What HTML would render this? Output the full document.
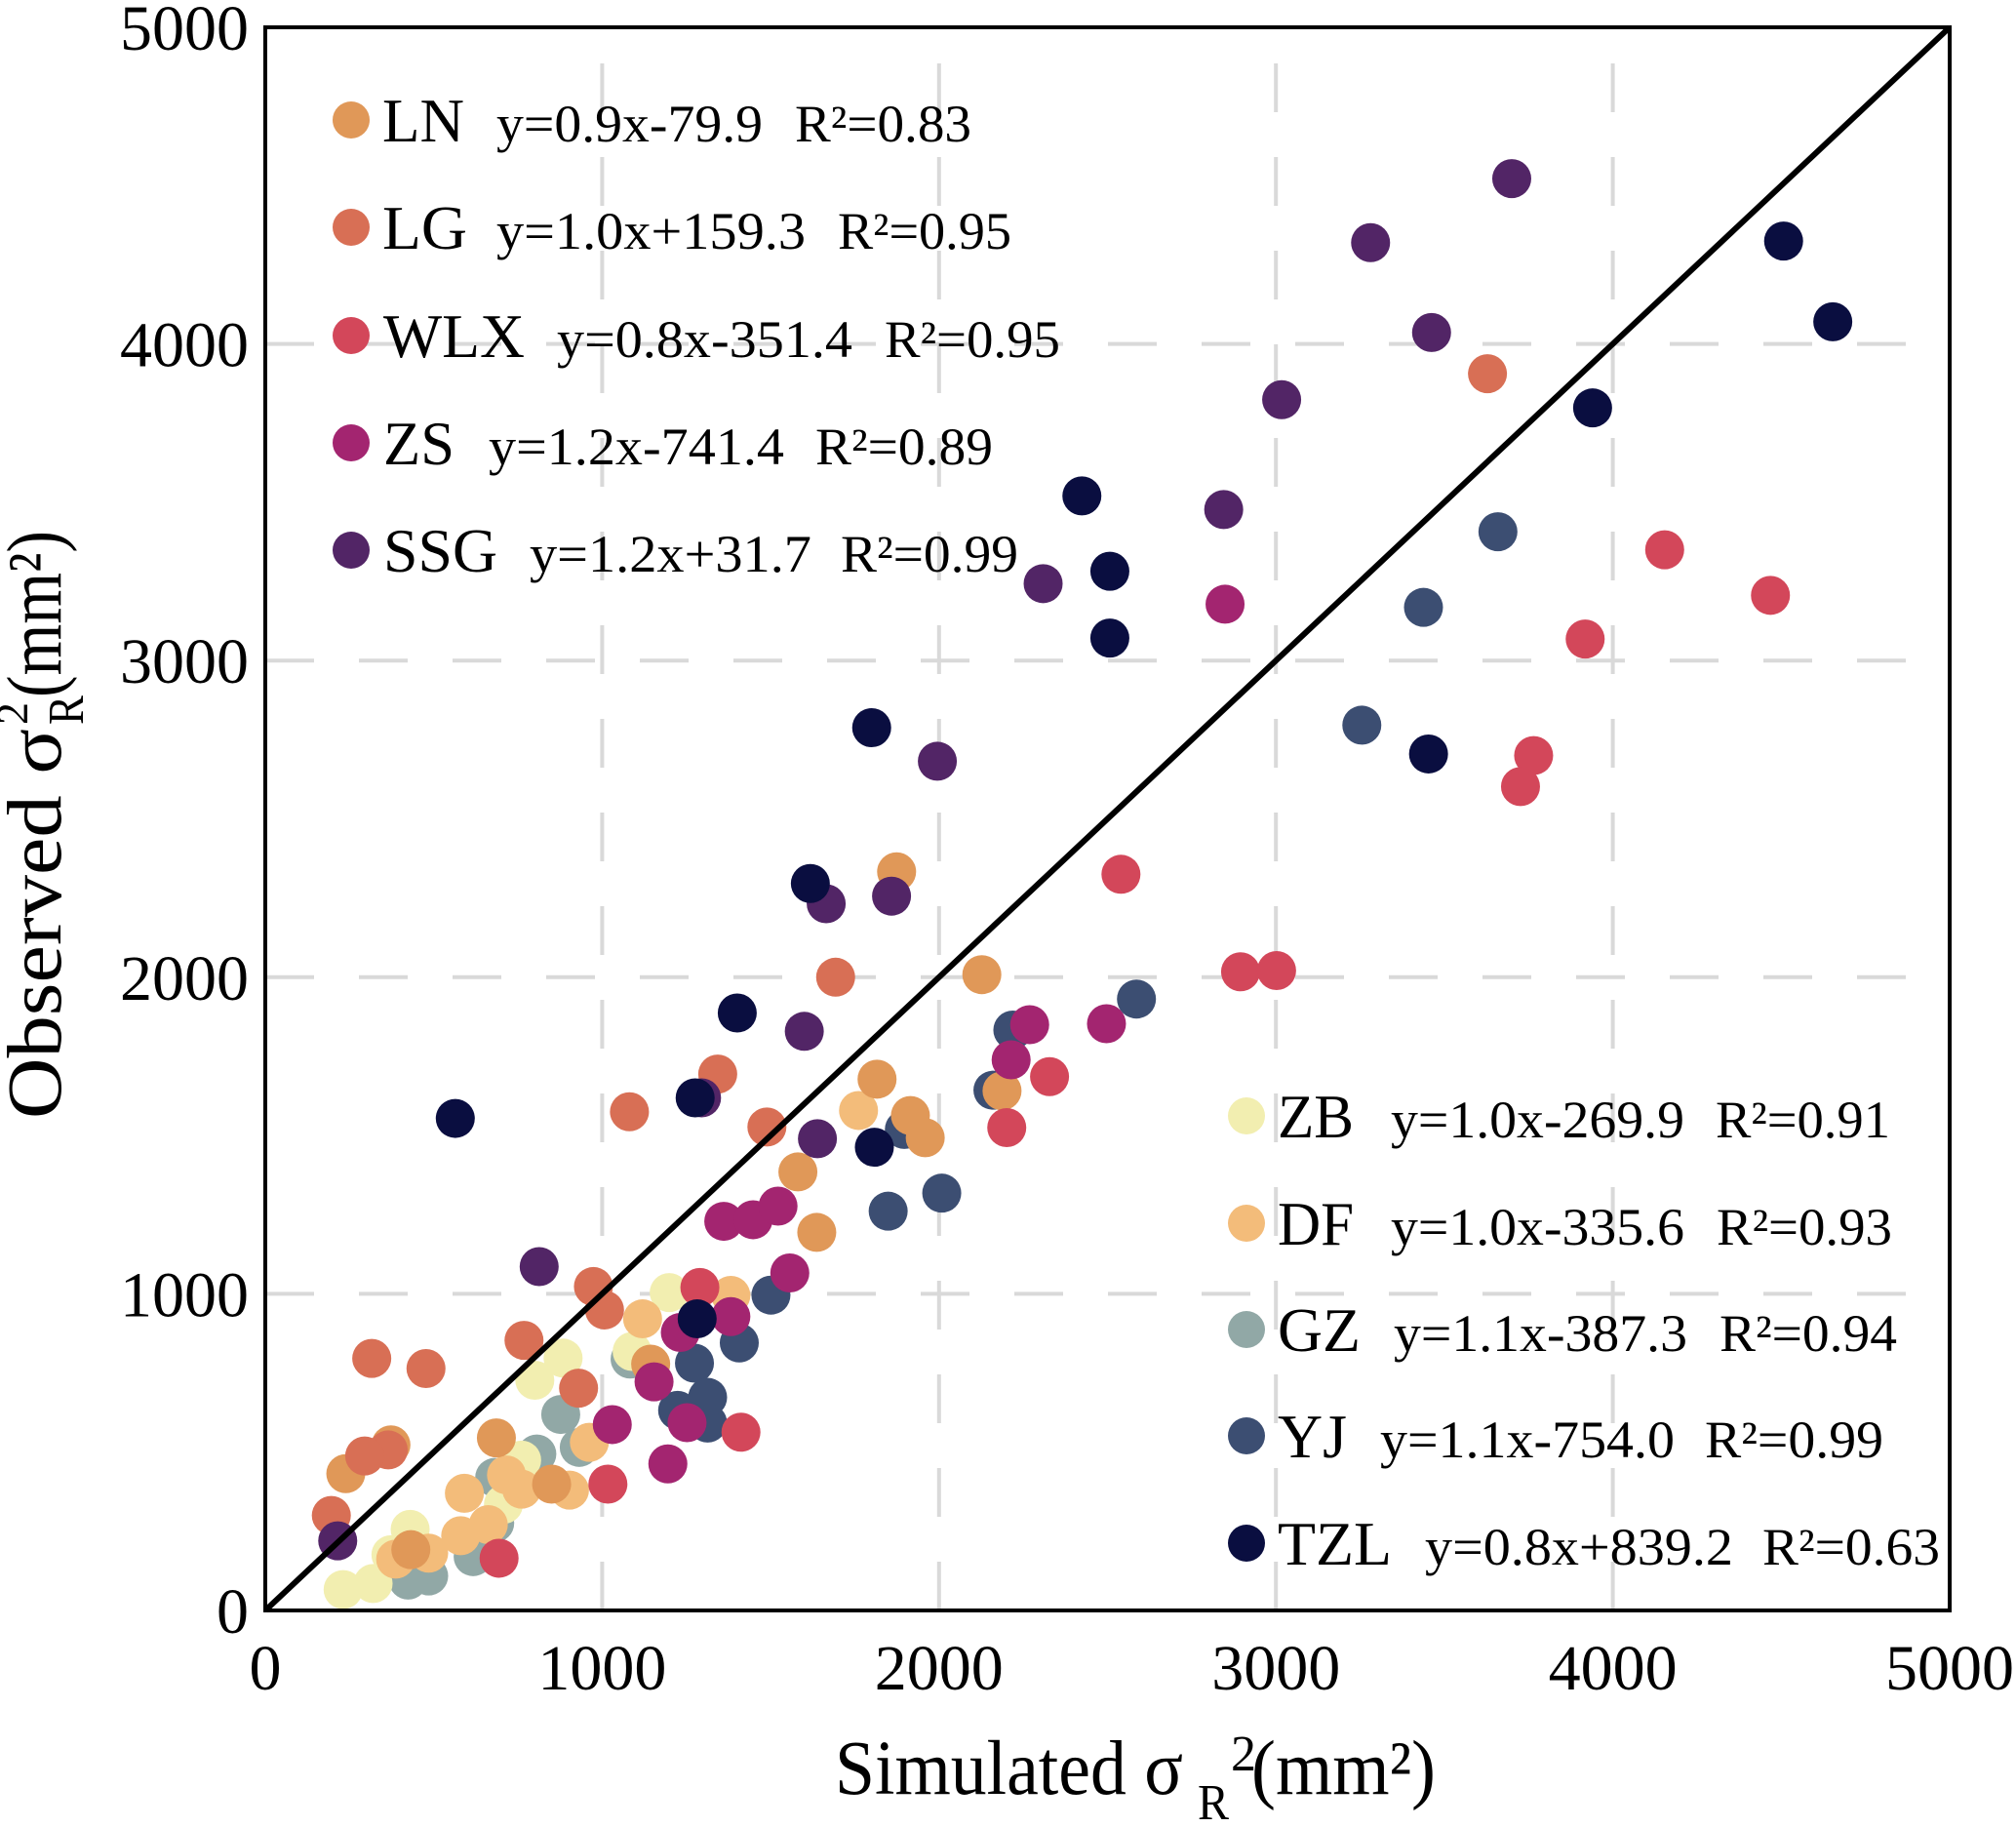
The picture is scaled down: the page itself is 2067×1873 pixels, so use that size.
<!DOCTYPE html>
<html><head><meta charset="utf-8"><style>
html,body{margin:0;padding:0;background:#fff;}
svg{display:block;font-family:"Liberation Serif",serif;}
</style></head><body>
<svg id="chart" width="2067" height="1873" viewBox="0 0 2067 1873" xmlns="http://www.w3.org/2000/svg">
<g id="grid"></g>
<g id="dots"></g>
<line x1="272" y1="1651" x2="1999" y2="28" stroke="#000" stroke-width="6"/>
<rect x="272" y="28" width="1727" height="1623" fill="none" stroke="#000" stroke-width="4"/>
<g id="ticks" font-size="66"></g>
<g font-size="79">
<text x="856" y="1839" textLength="357" lengthAdjust="spacingAndGlyphs">Simulated σ</text>
<text x="1228" y="1865" font-size="52" textLength="32" lengthAdjust="spacingAndGlyphs">R</text>
<text x="1262" y="1815" font-size="52">2</text>
<text x="1283" y="1839" textLength="189" lengthAdjust="spacingAndGlyphs">(mm²)</text>
</g>
<g font-size="79" transform="translate(62,1147) rotate(-90)">
<text x="0" y="0" textLength="400" lengthAdjust="spacingAndGlyphs">Observed σ</text>
<text x="404" y="23" font-size="52" textLength="30" lengthAdjust="spacingAndGlyphs">R</text>
<text x="404" y="-34" font-size="46">2</text>
<text x="432" y="0" textLength="171" lengthAdjust="spacingAndGlyphs">(mm²)</text>
</g>
<g id="legend"></g>
</svg>
<script>
const xTicks=[0,1000,2000,3000,4000,5000];
const yTicks=[0,1000,2000,3000,4000,5000];
const lnX=[1874,2127,1816,1915,1959,2187,1581,1637,1144,686,373,239,850,432];
const lnY=[2333,2008,1678,1563,1493,1641,1385,1194,778,545,523,432,399,192];
const lgX=[3628,1693,1343,1081,1489,974,1007,768,316,477,930,365,295,196];
const lgY=[3906,2000,1694,1575,1527,1023,949,853,796,764,702,507,488,300];
const wlxX=[4154,4468,3918,3765,3726,2540,2895,3002,2328,2201,1290,1412,1017,694];
const wlxY=[3350,3206,3068,2700,2602,2325,2017,2021,1686,1525,1020,563,399,165];
const zsX=[2849,2269,2497,2214,1361,1448,1522,1557,1382,1232,1154,1030,1252,1195];
const zsY=[3178,1850,1853,1739,1229,1234,1277,1066,928,878,722,587,593,463];
const ssgX=[3700,3281,3462,3017,2845,2309,1995,1665,1859,1600,1639,1295,813,215];
const ssgY=[4522,4320,4036,3824,3477,3243,2682,2232,2256,1829,1490,1619,1086,220];
const zbX=[1199,884,800,1089,761,707,430,373,320,231];
const zbY=[1004,797,727,818,475,335,256,176,85,66];
const dfX=[1761,1120,1382,962,591,716,761,903,662,580,485,387];
const dfY=[1579,921,995,531,370,428,383,380,271,236,181,162];
const gzX=[1083,877,932,806,681,681,617,485,424];
const gzY=[794,619,515,494,420,276,170,109,96];
const yjX=[3659,3438,3255,2586,2219,2160,1897,2008,1849,1501,1407,1274,1313,1224,1313];
const yjY=[3407,3168,2796,1931,1833,1643,1519,1318,1261,996,845,781,673,632,592];
const tzlX=[4507,4653,3940,2424,2507,2507,1800,3453,1618,1401,564,1276,1808,1282];
const tzlY=[4325,4070,3798,3520,3282,3071,2788,2705,2296,1887,1554,1619,1463,921];

const NS="http://www.w3.org/2000/svg";
const X0=272,X1=1999,Y0=1651,Y1=28;
function sx(v){return X0+(X1-X0)*v/5000;}
function sy(v){return Y0-(Y0-Y1)*v/5000;}
function mk(tag,attrs,parent){const e=document.createElementNS(NS,tag);for(const k in attrs)e.setAttribute(k,attrs[k]);parent.appendChild(e);return e;}

const grid=document.getElementById('grid');
[1000,2000,3000,4000].forEach(v=>{
  const a=mk('line',{x1:sx(v),y1:Y0,x2:sx(v),y2:Y1,stroke:'#d9d9d9','stroke-width':4,'stroke-dasharray':'50 46'},grid);
  
  
  const b=mk('line',{x1:X0,y1:sy(v),x2:X1,y2:sy(v),stroke:'#d9d9d9','stroke-width':4,'stroke-dasharray':'50 46'},grid);
  
  
});

const ticks=document.getElementById('ticks');
xTicks.forEach(v=>{
  const t=mk('text',{x:sx(v),y:1732,'text-anchor':'middle'},ticks);
  t.textContent=v;
  
  
});
yTicks.forEach(v=>{
  const t=mk('text',{x:255,y:sy(v)+23,'text-anchor':'end'},ticks);
  t.textContent=v;
  
  
});

const seriesOrder=[
 ['gz',gzX,gzY,'#91a8a6'],['zb',zbX,zbY,'#f2eeb0'],['df',dfX,dfY,'#f3bc7a'],
 ['yj',yjX,yjY,'#3c4e72'],['ln',lnX,lnY,'#e09858'],['lg',lgX,lgY,'#d86f55'],
 ['wlx',wlxX,wlxY,'#d3475a'],['zs',zsX,zsY,'#a32570'],['ssg',ssgX,ssgY,'#522566'],
 ['tzl',tzlX,tzlY,'#0a0e40']];
const dots=document.getElementById('dots');
seriesOrder.forEach(s=>{
  const g=mk('g',{},dots);
  
  
  s[1].forEach((xv,i)=>{
    const c=mk('circle',{cx:sx(xv),cy:sy(s[2][i]),r:20,fill:s[3]},g);
    
    
  });
});

const legendRows=[
 ['LN','y=0.9x-79.9','R²=0.83','#e09858',360,123,[392,476],[509,782],[815,996],64,54],
 ['LG','y=1.0x+159.3','R²=0.95','#d86f55',360,233,[392,479],[509,826],[859,1037],64,54],
 ['WLX','y=0.8x-351.4','R²=0.95','#d3475a',360,344,[393,538],[571,874],[907,1087],64,54],
 ['ZS','y=1.2x-741.4','R²=0.89','#a32570',360,454,[393,466],[501,804],[836,1018],64,54],
 ['SSG','y=1.2x+31.7','R²=0.99','#522566',360,564,[393,510],[543,832],[862,1044],64,54],
 ['ZB','y=1.0x-269.9','R²=0.91','#f2eeb0',1278,1144,[1310,1388],[1426,1727],[1759,1938],64,54],
 ['DF','y=1.0x-335.6','R²=0.93','#f3bc7a',1278,1254,[1310,1388],[1426,1727],[1760,1940],64,54],
 ['GZ','y=1.1x-387.3','R²=0.94','#91a8a6',1278,1363,[1310,1395],[1429,1730],[1763,1945],64,54],
 ['YJ','y=1.1x-754.0','R²=0.99','#3c4e72',1278,1472,[1310,1381],[1415,1717],[1748,1931],64,54],
 ['TZL','y=0.8x+839.2','R²=0.63','#0a0e40',1278,1582,[1310,1427],[1461,1777],[1807,1989],64,54]];
const legend=document.getElementById('legend');
legendRows.forEach(r=>{
  const g=mk('g',{},legend);
  
  
  const c=mk('circle',{cx:r[4],cy:r[5],r:19,fill:r[3]},g);
  
  
  const parts=[[r[0],r[6],r[9]],[r[1],r[7],r[10]],[r[2],r[8],r[10]]];
  parts.forEach((p,i)=>{
    const t=mk('text',{x:p[1][0],y:r[5]+22,'font-size':p[2],textLength:p[1][1]-p[1][0],lengthAdjust:'spacingAndGlyphs'},g);
    t.textContent=p[0];
    
    
  });
});
</script>
</body></html>
